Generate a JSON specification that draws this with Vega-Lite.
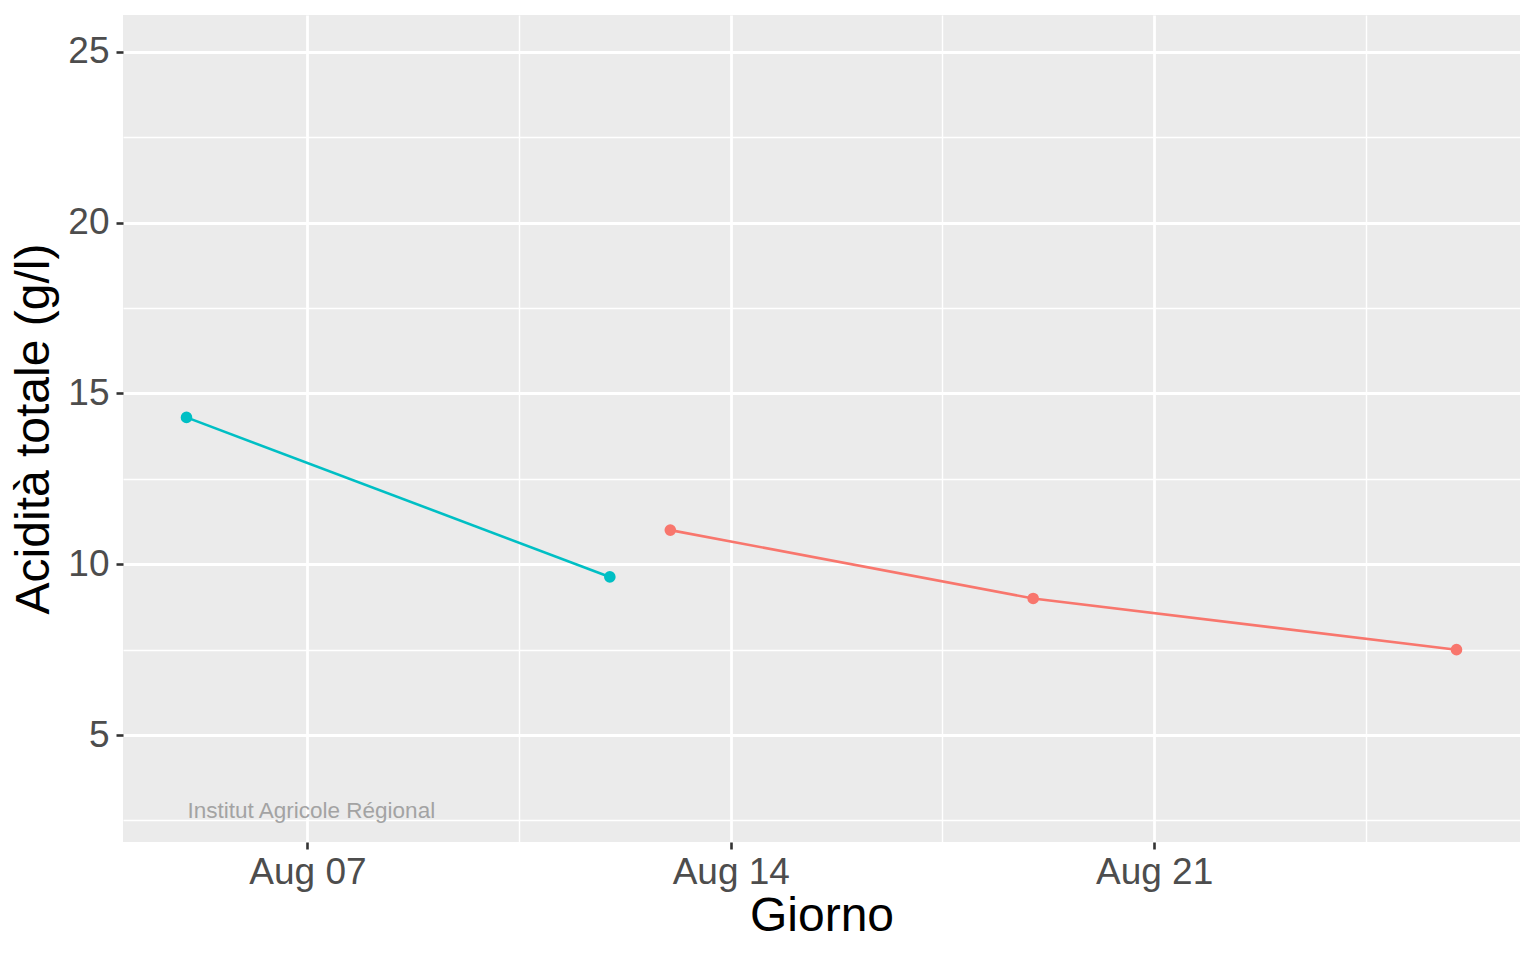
{
  "$schema": "https://vega.github.io/schema/vega-lite/v6.json",
  "width": 1397,
  "height": 827,
  "autosize": "none",
  "padding": {"left": 123, "top": 15, "right": 16, "bottom": 118},
  "background": "white",
  "datasets": {
    "misure": [
      {"giorno": "2023-08-05", "acidita": 14.3, "gruppo": "B"},
      {"giorno": "2023-08-12", "acidita": 9.63, "gruppo": "B"},
      {"giorno": "2023-08-13", "acidita": 11.0, "gruppo": "A"},
      {"giorno": "2023-08-19", "acidita": 9.0, "gruppo": "A"},
      {"giorno": "2023-08-26", "acidita": 7.5, "gruppo": "A"}
    ],
    "nota": [
      {"giorno": "2023-08-05", "acidita": 2.5, "testo": "Institut Agricole Régional"}
    ]
  },
  "encoding": {
    "x": {
      "field": "giorno",
      "type": "temporal",
      "title": "Giorno",
      "scale": {
        "type": "utc",
        "domain": [
          {"year": 2023, "month": 8, "date": 3, "hours": 22, "minutes": 48, "utc": true},
          {"year": 2023, "month": 8, "date": 27, "hours": 1, "minutes": 12, "utc": true}
        ]
      },
      "axis": {
        "values": [
          {"year": 2023, "month": 8, "date": 7, "utc": true},
          {"year": 2023, "month": 8, "date": 10, "hours": 12, "utc": true},
          {"year": 2023, "month": 8, "date": 14, "utc": true},
          {"year": 2023, "month": 8, "date": 17, "hours": 12, "utc": true},
          {"year": 2023, "month": 8, "date": 21, "utc": true},
          {"year": 2023, "month": 8, "date": 24, "hours": 12, "utc": true}
        ],
        "labelExpr": "utchours(datum.value) == 12 ? '' : utcFormat(datum.value, '%b %d')",
        "gridWidth": {"condition": {"test": "utchours(datum.value) == 12", "value": 1.4}, "value": 2.8},
        "tickOpacity": {"condition": {"test": "utchours(datum.value) == 12", "value": 0}, "value": 1},
        "labelPadding": 5,
        "titlePadding": 2
      }
    },
    "y": {
      "field": "acidita",
      "type": "quantitative",
      "title": "Acidità totale (g/l)",
      "scale": {"domain": [1.87, 26.08], "nice": false, "zero": false},
      "axis": {
        "values": [2.5, 5, 7.5, 10, 12.5, 15, 17.5, 20, 22.5, 25],
        "labelExpr": "datum.value % 5 != 0 ? '' : datum.label",
        "gridWidth": {"condition": {"test": "datum.value % 5 != 0", "value": 1.4}, "value": 2.8},
        "tickOpacity": {"condition": {"test": "datum.value % 5 != 0", "value": 0}, "value": 1},
        "labelPadding": 7,
        "titlePadding": 9
      }
    }
  },
  "layer": [
    {
      "data": {"name": "misure"},
      "mark": {"type": "line", "strokeWidth": 2.6},
      "encoding": {
        "color": {
          "field": "gruppo",
          "type": "nominal",
          "scale": {"domain": ["A", "B"], "range": ["#F8766D", "#00BFC4"]},
          "legend": null
        }
      }
    },
    {
      "data": {"name": "misure"},
      "mark": {"type": "circle", "size": 135, "opacity": 1},
      "encoding": {
        "color": {"field": "gruppo", "type": "nominal", "legend": null}
      }
    },
    {
      "data": {"name": "nota"},
      "mark": {
        "type": "text",
        "align": "left",
        "baseline": "alphabetic",
        "dx": 1,
        "dy": -2,
        "font": "Liberation Sans",
        "fontSize": 22.5,
        "color": "#A3A3A3"
      },
      "encoding": {
        "text": {"field": "testo"}
      }
    }
  ],
  "config": {
    "view": {"fill": "#EBEBEB", "stroke": null},
    "axis": {
      "domain": false,
      "gridColor": "white",
      "labelFont": "Liberation Sans",
      "labelFontSize": 37,
      "labelColor": "#4D4D4D",
      "labelOverlap": false,
      "labelFlush": false,
      "tickColor": "#333333",
      "tickSize": 7,
      "tickWidth": 2.6,
      "titleFont": "Liberation Sans",
      "titleFontSize": 48,
      "titleFontWeight": "normal",
      "titleColor": "black"
    }
  }
}
